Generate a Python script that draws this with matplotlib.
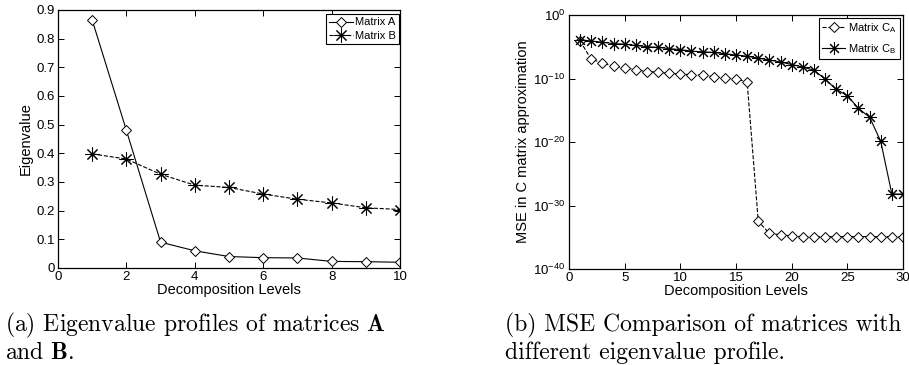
import numpy as np
import matplotlib
matplotlib.use('Agg')
import matplotlib.pyplot as plt
from matplotlib.ticker import FixedLocator

plt.rcParams['font.family'] = ['Liberation Sans', 'DejaVu Sans']
plt.rcParams['mathtext.fontset'] = 'cm'

# данные (a)
levels_a = np.arange(1, 11)
matrix_a = [0.865, 0.48, 0.09, 0.06, 0.04, 0.036, 0.035, 0.023, 0.022, 0.02]
matrix_b = [0.398, 0.38, 0.327, 0.289, 0.281, 0.258, 0.24, 0.227, 0.21, 0.204]

# данные (b) - показатели степени MSE
levels_b = np.arange(1, 31)
exp_ca = [-4.1, -7.0, -7.5, -8.1, -8.3, -8.6, -8.9, -9.0, -9.2, -9.3,
          -9.4, -9.5, -9.7, -9.9, -10.1, -10.5, -32.5, -34.4, -34.6, -34.8,
          -34.9, -34.9, -34.9, -34.9, -34.9, -34.9, -34.9, -34.9, -34.9, -34.9]
exp_cb = [-3.9, -4.1, -4.3, -4.5, -4.6, -4.8, -5.0, -5.1, -5.3, -5.45,
          -5.7, -5.8, -5.9, -6.1, -6.3, -6.5, -6.8, -7.1, -7.4, -7.8,
          -8.2, -8.7, -10.1, -11.7, -12.7, -14.7, -16.1, -19.9, -28.2, -28.2]
mse_ca = 10.0 ** np.array(exp_ca)
mse_cb = 10.0 ** np.array(exp_cb)

W, H = 909, 365
fig = plt.figure(figsize=(W / 100, H / 100), dpi=100)

def box(x0, y0, x1, y1):
    return [x0 / W, 1 - y1 / H, (x1 - x0) / W, (y1 - y0) / H]

star = (8, 2, 0)
lw = 0.8

def style(ax):
    ax.tick_params(direction='in', top=True, right=True, length=4, width=0.7,
                   labelsize=9.5, pad=2.5)
    for s in ax.spines.values():
        s.set_linewidth(0.9)

legkw = dict(loc='upper right', fontsize=8, fancybox=False, edgecolor='k',
             framealpha=1, borderaxespad=0, handlelength=2.1,
             handletextpad=0.2, borderpad=0.3)

# (a)
ax1 = fig.add_axes(box(58, 10, 400, 268))
ax1.plot(levels_a, matrix_a, '-', color='k', lw=lw, marker='D', ms=4.8,
         mfc='white', mec='k', mew=0.7, label='Matrix A')
ax1.plot(levels_a, matrix_b, '--', color='k', lw=lw, marker=star, ms=10,
         mec='k', mew=0.75, label='Matrix B')
ax1.set_xlim(0, 10)
ax1.set_ylim(0, 0.9)
ax1.set_xticks(range(0, 11, 2))
ax1.set_yticks(np.arange(0, 0.91, 0.1))
ax1.set_yticklabels(['0', '0.1', '0.2', '0.3', '0.4', '0.5', '0.6', '0.7', '0.8', '0.9'])
ax1.set_xlabel('Decomposition Levels', fontsize=10.5, labelpad=0)
ax1.set_ylabel('Eigenvalue', fontsize=10.5, labelpad=2)
style(ax1)
leg = ax1.legend(bbox_to_anchor=(0.997, 0.984), labelspacing=0.3, **legkw)
leg.get_frame().set_linewidth(0.8)

# (b)
ax2 = fig.add_axes(box(569, 15, 903, 269))
ax2.semilogy(levels_b, mse_ca, '--', color='k', lw=lw, marker='D', ms=4.8,
             mfc='white', mec='k', mew=0.7, label='Matrix C$_\\mathregular{A}$')
ax2.semilogy(levels_b, mse_cb, '-', color='k', lw=lw, marker=star, ms=9,
             mec='k', mew=0.75, label='Matrix C$_\\mathregular{B}$')
ax2.set_xlim(0, 30)
ax2.set_ylim(1e-40, 1)
ax2.set_xticks(range(0, 31, 5))
yt = [1e-40, 1e-30, 1e-20, 1e-10, 1]
ax2.yaxis.set_major_locator(FixedLocator(yt))
ax2.yaxis.set_minor_locator(FixedLocator([]))
ax2.set_yticklabels(['$\\mathregular{10^{-40}}$', '$\\mathregular{10^{-30}}$',
                     '$\\mathregular{10^{-20}}$', '$\\mathregular{10^{-10}}$',
                     '$\\mathregular{10^{0}}$'])
ax2.set_xlabel('Decomposition Levels', fontsize=10.5, labelpad=0)
ax2.set_ylabel('MSE in C matrix approximation', fontsize=10.5, labelpad=2)
style(ax2)
leg2 = ax2.legend(bbox_to_anchor=(0.991, 0.988), labelspacing=0.6, **legkw)
leg2.get_frame().set_linewidth(0.8)

# подписи
cap = dict(fontfamily='cmr10', fontsize=17, va='baseline', ha='left')
fig.text(5 / W, 1 - 331 / H, '(a) Eigenvalue profiles of matrices $\\mathbf{A}$', **cap)
fig.text(5 / W, 1 - 359 / H, 'and $\\mathbf{B}$.', **cap)
fig.text(505 / W, 1 - 331 / H, '(b) MSE Comparison of matrices with', **cap)
fig.text(505 / W, 1 - 359 / H, 'different eigenvalue profile.', **cap)

fig.savefig('out.png', dpi=100)
